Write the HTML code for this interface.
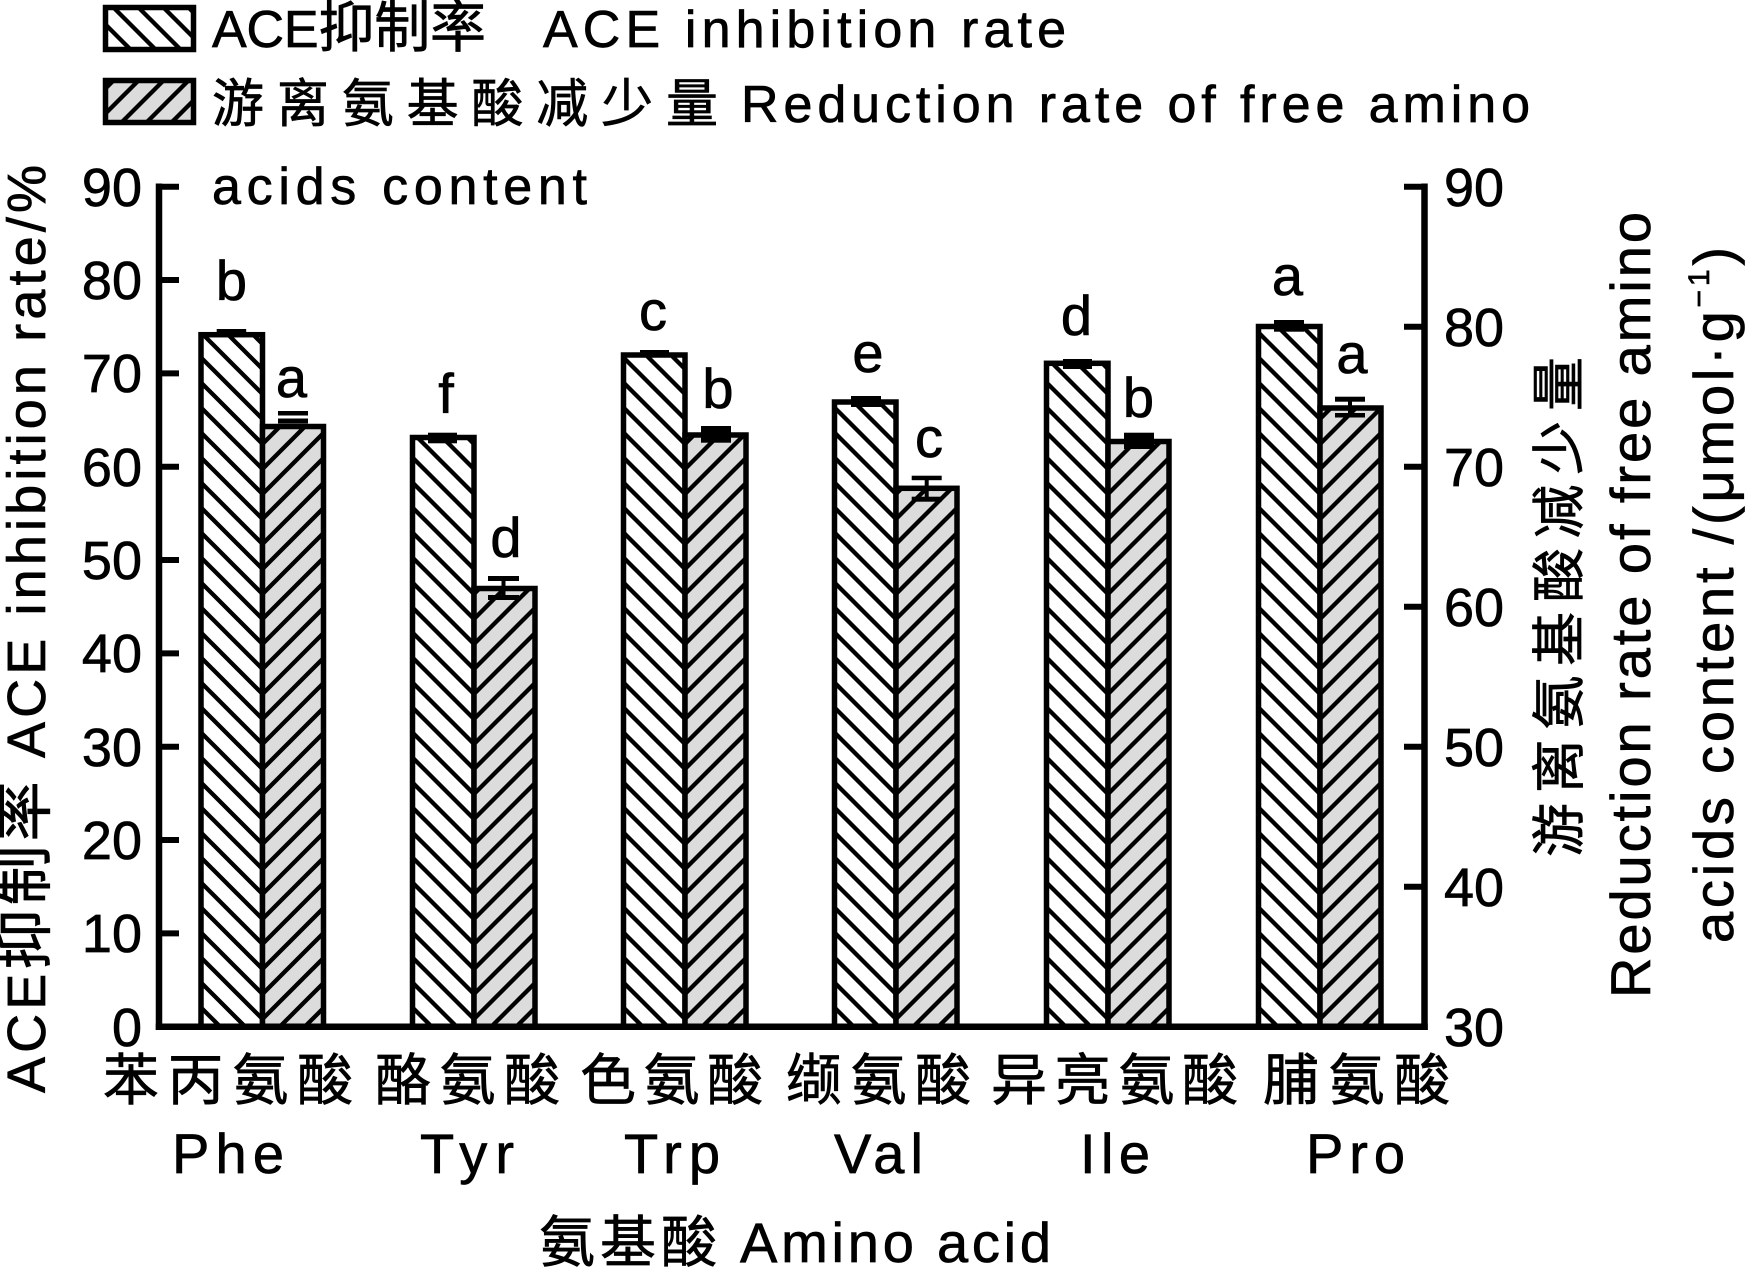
<!DOCTYPE html>
<html>
<head>
<meta charset="utf-8">
<style>
  html,body{margin:0;padding:0;background:#fff;}
  body{width:1747px;height:1268px;overflow:hidden;}
  svg{display:block;}
  text{font-family:"Liberation Sans","Noto Sans CJK SC",sans-serif;fill:#000;stroke:#000;stroke-width:0.7;}
</style>
</head>
<body>
<svg width="1747" height="1268" viewBox="0 0 1747 1268" xmlns="http://www.w3.org/2000/svg">
  <defs>
    <pattern id="hb" patternUnits="userSpaceOnUse" x="0" y="19" width="25" height="25">
      <rect x="0" y="0" width="25" height="25" fill="#ffffff"/>
      <path d="M-6.25,-6.25 L31.25,31.25 M-6.25,18.75 L6.25,31.25 M18.75,-6.25 L31.25,6.25" stroke="#000" stroke-width="4.3" fill="none"/>
    </pattern>
    <pattern id="hf" patternUnits="userSpaceOnUse" x="0" y="19" width="25" height="25">
      <rect x="0" y="0" width="25" height="25" fill="#dcdcdc"/>
      <path d="M-6.25,31.25 L31.25,-6.25 M-6.25,6.25 L6.25,-6.25 M18.75,31.25 L31.25,18.75" stroke="#000" stroke-width="4.3" fill="none"/>
    </pattern>
  </defs>

  <!-- Legend -->
  <rect x="105.5" y="7.5" width="88" height="42" fill="url(#hb)" stroke="#000" stroke-width="5.5"/>
  <rect x="105.5" y="80.5" width="88" height="42" fill="url(#hf)" stroke="#000" stroke-width="5.5"/>
  <text x="212" y="47" font-size="52" textLength="274" lengthAdjust="spacing">ACE<tspan font-size="56">抑制率</tspan></text>
  <text x="543" y="47" font-size="52" textLength="523" lengthAdjust="spacing">ACE inhibition rate</text>
  <text x="212" y="122" font-size="52" textLength="506" lengthAdjust="spacing">游离氨基酸减少量</text>
  <text x="741" y="122" font-size="52" textLength="789" lengthAdjust="spacing">Reduction rate of free amino</text>
  <text x="212" y="204" font-size="52" textLength="375" lengthAdjust="spacing">acids content</text>

  <!-- Bars -->
  <g stroke="#000" stroke-width="5.5" stroke-linejoin="miter">
    <g transform="translate(262.5,0)">
      <rect x="-61.5" y="334.7" width="61.5" height="692" fill="url(#hb)"/>
      <rect x="0" y="426.5" width="61" height="600.2" fill="url(#hf)"/>
    </g>
    <g transform="translate(474,0)">
      <rect x="-61.5" y="437.5" width="61.5" height="589.2" fill="url(#hb)"/>
      <rect x="0" y="588.5" width="61" height="438.2" fill="url(#hf)"/>
    </g>
    <g transform="translate(685,0)">
      <rect x="-61.5" y="355" width="61.5" height="671.7" fill="url(#hb)"/>
      <rect x="0" y="435" width="61" height="591.7" fill="url(#hf)"/>
    </g>
    <g transform="translate(896,0)">
      <rect x="-61.5" y="402" width="61.5" height="624.7" fill="url(#hb)"/>
      <rect x="0" y="488.3" width="61" height="538.4" fill="url(#hf)"/>
    </g>
    <g transform="translate(1108,0)">
      <rect x="-61.5" y="363.3" width="61.5" height="663.4" fill="url(#hb)"/>
      <rect x="0" y="441.5" width="61" height="585.2" fill="url(#hf)"/>
    </g>
    <g transform="translate(1320,0)">
      <rect x="-61.5" y="326.5" width="61.5" height="700.2" fill="url(#hb)"/>
      <rect x="0" y="408" width="61" height="618.7" fill="url(#hf)"/>
    </g>
  </g>

  <!-- Error bars -->
  <g fill="#000">
    <rect x="216.7" y="329" width="29.5" height="5"/>
    <rect x="428" y="432.7" width="29" height="10.6"/>
    <rect x="640" y="350" width="29" height="5"/>
    <rect x="851" y="396" width="30" height="11"/>
    <rect x="1063" y="359" width="29" height="10"/>
    <rect x="1274" y="320" width="30" height="11.7"/>

    <rect x="278" y="411" width="30" height="4.5"/>
    <rect x="278" y="418.5" width="30" height="5"/>

    <rect x="488" y="576" width="31" height="5"/>
    <rect x="488" y="595" width="31" height="5"/>
    <rect x="501.5" y="578" width="4" height="20"/>

    <rect x="701" y="426" width="30" height="16.7"/>

    <rect x="911.7" y="475.7" width="30" height="4.5"/>
    <rect x="911.7" y="496.7" width="30" height="5"/>
    <rect x="924.7" y="478" width="4" height="21"/>

    <rect x="1124" y="432.7" width="30" height="16.3"/>

    <rect x="1335" y="396.7" width="30" height="5"/>
    <rect x="1335" y="413" width="30" height="4.5"/>
    <rect x="1348" y="399" width="4" height="16"/>
  </g>

  <!-- Axes -->
  <g stroke="#000" stroke-width="6.5" fill="none" stroke-linecap="square">
    <line x1="159" y1="186.7" x2="159" y2="1026.7"/>
    <line x1="1424.5" y1="186.7" x2="1424.5" y2="1026.7"/>
    <line x1="159" y1="1026.7" x2="1424.5" y2="1026.7"/>
  </g>
  <g stroke="#000" stroke-width="6" fill="none">
    <line x1="159" y1="186.7" x2="179" y2="186.7"/>
    <line x1="159" y1="280" x2="179" y2="280"/>
    <line x1="159" y1="373.4" x2="179" y2="373.4"/>
    <line x1="159" y1="466.7" x2="179" y2="466.7"/>
    <line x1="159" y1="560" x2="179" y2="560"/>
    <line x1="159" y1="653.4" x2="179" y2="653.4"/>
    <line x1="159" y1="746.7" x2="179" y2="746.7"/>
    <line x1="159" y1="840" x2="179" y2="840"/>
    <line x1="159" y1="933.4" x2="179" y2="933.4"/>
    <line x1="1404" y1="186.7" x2="1424.5" y2="186.7"/>
    <line x1="1404" y1="326.7" x2="1424.5" y2="326.7"/>
    <line x1="1404" y1="466.7" x2="1424.5" y2="466.7"/>
    <line x1="1404" y1="606.7" x2="1424.5" y2="606.7"/>
    <line x1="1404" y1="746.7" x2="1424.5" y2="746.7"/>
    <line x1="1404" y1="886.7" x2="1424.5" y2="886.7"/>
  </g>

  <!-- Left tick labels -->
  <g font-size="54" text-anchor="end">
    <text x="142" y="206">90</text>
    <text x="142" y="299">80</text>
    <text x="142" y="392">70</text>
    <text x="142" y="486">60</text>
    <text x="142" y="579">50</text>
    <text x="142" y="672">40</text>
    <text x="142" y="766">30</text>
    <text x="142" y="859">20</text>
    <text x="142" y="952">10</text>
    <text x="142" y="1046">0</text>
  </g>
  <!-- Right tick labels -->
  <g font-size="54" text-anchor="start">
    <text x="1444" y="206">90</text>
    <text x="1444" y="346">80</text>
    <text x="1444" y="486">70</text>
    <text x="1444" y="626">60</text>
    <text x="1444" y="766">50</text>
    <text x="1444" y="906">40</text>
    <text x="1444" y="1046">30</text>
  </g>

  <!-- Significance letters -->
  <g font-size="56" text-anchor="middle">
    <text x="231.5" y="300">b</text>
    <text x="291.5" y="397">a</text>
    <text x="446" y="413">f</text>
    <text x="506" y="557">d</text>
    <text x="653" y="330">c</text>
    <text x="718" y="408">b</text>
    <text x="868" y="372">e</text>
    <text x="929" y="457">c</text>
    <text x="1076.5" y="335">d</text>
    <text x="1138.5" y="417">b</text>
    <text x="1287.5" y="295">a</text>
    <text x="1352" y="373">a</text>
  </g>

  <!-- X category labels -->
  <g font-size="56">
    <text x="103" y="1100" textLength="250" lengthAdjust="spacing">苯丙氨酸</text>
    <text x="375" y="1100" textLength="185" lengthAdjust="spacing">酪氨酸</text>
    <text x="580" y="1100" textLength="183" lengthAdjust="spacing">色氨酸</text>
    <text x="786" y="1100" textLength="185" lengthAdjust="spacing">缬氨酸</text>
    <text x="991" y="1100" textLength="247" lengthAdjust="spacing">异亮氨酸</text>
    <text x="1263" y="1100" textLength="187" lengthAdjust="spacing">脯氨酸</text>

    <text x="172" y="1173" textLength="112" lengthAdjust="spacing">Phe</text>
    <text x="420" y="1173" textLength="94" lengthAdjust="spacing">Tyr</text>
    <text x="624" y="1173" textLength="96" lengthAdjust="spacing">Trp</text>
    <text x="834" y="1173" textLength="89" lengthAdjust="spacing">Val</text>
    <text x="1080" y="1173" textLength="70" lengthAdjust="spacing">Ile</text>
    <text x="1306" y="1173" textLength="99" lengthAdjust="spacing">Pro</text>
  </g>

  <!-- X axis title -->
  <text x="539" y="1262" font-size="56" textLength="178" lengthAdjust="spacing">氨基酸</text>
  <text x="740" y="1262" font-size="56" textLength="311" lengthAdjust="spacing">Amino acid</text>

  <!-- Left axis title -->
  <text transform="translate(45,1093) rotate(-90)" font-size="54" textLength="928" lengthAdjust="spacing">ACE<tspan font-size="60">抑制率</tspan> ACE inhibition rate/%</text>

  <!-- Right axis title -->
  <text transform="translate(1578,857) rotate(-90)" font-size="54" textLength="500" lengthAdjust="spacing">游离氨基酸减少量</text>
  <text transform="translate(1650,998) rotate(-90)" font-size="56" textLength="786" lengthAdjust="spacing">Reduction rate of free amino</text>
  <text transform="translate(1733,943) rotate(-90)" font-size="56" textLength="696" lengthAdjust="spacing">acids content /(μmol·g<tspan font-size="30" dy="-24">−1</tspan><tspan font-size="56" dy="24">)</tspan></text>
</svg>
</body>
</html>
